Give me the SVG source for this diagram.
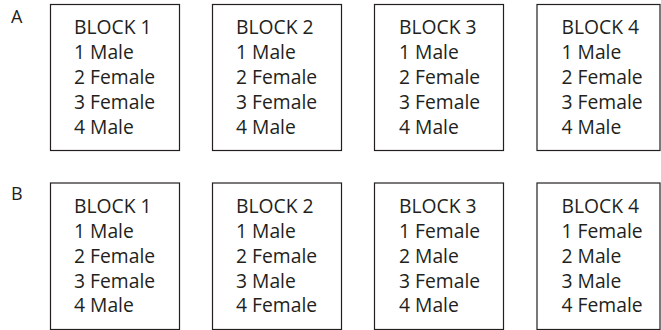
<svg xmlns="http://www.w3.org/2000/svg" width="661" height="330" viewBox="0 0 661 330">
<style>
.box{fill:#fff;stroke:#231f20;stroke-width:1.2}
text{font-family:"Open Sans","Noto Sans","Liberation Sans",sans-serif;font-size:19.3px;fill:#231f20}
.lbl{font-size:18px}
</style>
<rect width="661" height="330" fill="#fff"/>
<text class="lbl" x="11" y="22.5">A</text>
<text class="lbl" x="11" y="199.5">B</text>
<g id="A1"><rect class="box" x="50.5" y="4.5" width="129" height="146"/>
<text x="74" y="34.3">BLOCK 1</text><text x="74" y="59">1 Male</text><text x="74" y="84">2 Female</text><text x="74" y="109">3 Female</text><text x="74" y="134">4 Male</text></g>
<g id="A2"><rect class="box" x="212.5" y="4.5" width="129" height="146"/>
<text x="236" y="34.3">BLOCK 2</text><text x="236" y="59">1 Male</text><text x="236" y="84">2 Female</text><text x="236" y="109">3 Female</text><text x="236" y="134">4 Male</text></g>
<g id="A3"><rect class="box" x="374.5" y="4.5" width="129" height="146"/>
<text x="399" y="34.3">BLOCK 3</text><text x="399" y="59">1 Male</text><text x="399" y="84">2 Female</text><text x="399" y="109">3 Female</text><text x="399" y="134">4 Male</text></g>
<g id="A4"><rect class="box" x="537" y="4.5" width="123" height="146"/>
<text x="561.5" y="34.3">BLOCK 4</text><text x="561.5" y="59">1 Male</text><text x="561.5" y="84">2 Female</text><text x="561.5" y="109">3 Female</text><text x="561.5" y="134">4 Male</text></g>
<g id="B1"><rect class="box" x="50.5" y="183" width="129" height="146.5"/>
<text x="74" y="213.3">BLOCK 1</text><text x="74" y="238">1 Male</text><text x="74" y="263">2 Female</text><text x="74" y="288">3 Female</text><text x="74" y="312.3">4 Male</text></g>
<g id="B2"><rect class="box" x="212.5" y="183" width="129" height="146.5"/>
<text x="236" y="213.3">BLOCK 2</text><text x="236" y="238">1 Male</text><text x="236" y="263">2 Female</text><text x="236" y="288">3 Male</text><text x="236" y="312.3">4 Female</text></g>
<g id="B3"><rect class="box" x="374.5" y="183" width="129" height="146.5"/>
<text x="399" y="213.3">BLOCK 3</text><text x="399" y="238">1 Female</text><text x="399" y="263">2 Male</text><text x="399" y="288">3 Female</text><text x="399" y="312.3">4 Male</text></g>
<g id="B4"><rect class="box" x="537" y="183" width="123" height="146.5"/>
<text x="561.5" y="213.3">BLOCK 4</text><text x="561.5" y="238">1 Female</text><text x="561.5" y="263">2 Male</text><text x="561.5" y="288">3 Male</text><text x="561.5" y="312.3">4 Female</text></g>
<g id="connectors"></g>
</svg>
